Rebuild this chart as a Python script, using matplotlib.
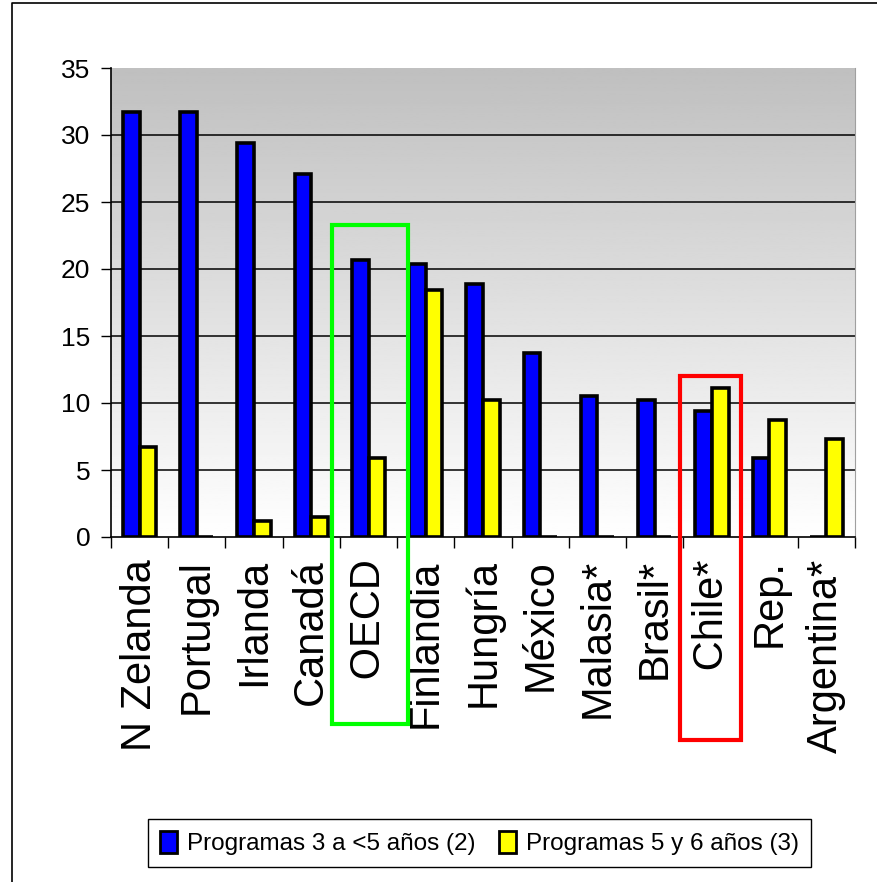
import numpy as np
import matplotlib.pyplot as plt
from matplotlib.patches import Rectangle, Patch
from matplotlib.lines import Line2D

paises = ['N Zelanda', 'Portugal', 'Irlanda', 'Canadá', ' OECD', 'Finlandia', 'Hungría',
          'México', 'Malasia*', 'Brasil*', ' Chile*', 'Rep.', 'Argentina*']
prog_3_5 = [31.7, 31.7, 29.4, 27.1, 20.7, 20.4, 18.9, 13.7, 10.5, 10.2, 9.4, 5.9, 0]
prog_5_6 = [6.7, 0, 1.2, 1.5, 5.9, 18.4, 10.2, 0, 0, 0, 11.1, 8.7, 7.3]
leyenda = ['Programas 3 a <5 años (2)', 'Programas 5 y 6 años (3)']

plt.rcParams['font.family'] = ['Liberation Sans', 'DejaVu Sans']

W, H = 878, 882
fig = plt.figure(figsize=(W / 100, H / 100), dpi=100)
ax = fig.add_axes([111 / W, 1 - 537 / H, (855 - 111) / W, (537 - 68) / H])

x = np.arange(len(paises))
ancho = 0.29

# fondo degradado: blanco abajo, gris arriba
grad = np.linspace(1.0, 0.75, 256).reshape(-1, 1)
ax.imshow(grad, cmap='gray', vmin=0, vmax=1, extent=[-0.5, 12.5, 0, 35],
          origin='lower', aspect='auto', zorder=0)

for y in range(5, 35, 5):
    ax.axhline(y, color='black', lw=1.1, zorder=1)

ax.bar(x - ancho / 2, prog_3_5, ancho, color='#0000ff', edgecolor='black', linewidth=2.6, zorder=3)
ax.bar(x + ancho / 2, prog_5_6, ancho, color='#ffff00', edgecolor='black', linewidth=2.6, zorder=3)

ax.set_xlim(-0.5, 12.5)
ax.set_ylim(0, 35)
ax.set_yticks(range(0, 36, 5))
ax.tick_params(axis='y', labelsize=19, length=7, width=1, direction='out', pad=8)
ax.set_xticks(x)
ax.set_xticklabels(paises, rotation=90, fontsize=30)
ax.tick_params(axis='x', length=0, pad=16)
ax.set_xticks(np.arange(-0.5, 13, 1), minor=True)
ax.tick_params(axis='x', which='minor', length=8, width=1)
ax.spines['top'].set_visible(False)
ax.spines['right'].set_color('#a0a0a0')
ax.spines['left'].set_linewidth(1.2)
ax.spines['bottom'].set_linewidth(1.2)

# recuadros de resalte
fig.patches.append(Rectangle((332 / W, 1 - 724 / H), 76 / W, 499 / H, transform=fig.transFigure,
                             fill=False, edgecolor='#00ff00', linewidth=3, zorder=10))
fig.patches.append(Rectangle((680 / W, 1 - 740 / H), 61 / W, 364 / H, transform=fig.transFigure,
                             fill=False, edgecolor='#ff0000', linewidth=3, zorder=10))

# marco exterior
fig.lines.append(Line2D([12 / W, 12 / W, 1], [0, 1 - 3 / H, 1 - 3 / H], transform=fig.transFigure,
                        color='black', lw=1.2))

handles = [Patch(facecolor='#0000ff', edgecolor='black', linewidth=2),
           Patch(facecolor='#ffff00', edgecolor='black', linewidth=2)]
leg = fig.legend(handles, leyenda, loc='center', bbox_to_anchor=(479.5 / W, 1 - 843 / H), ncol=2,
                 frameon=True, fancybox=False, edgecolor='black', framealpha=1,
                 prop={'size': 17.5}, handlelength=0.7, handleheight=1.0,
                 handletextpad=0.4, columnspacing=1.0, borderpad=0.5)
leg.get_frame().set_linewidth(1)

fig.savefig('out.png', dpi=100)
